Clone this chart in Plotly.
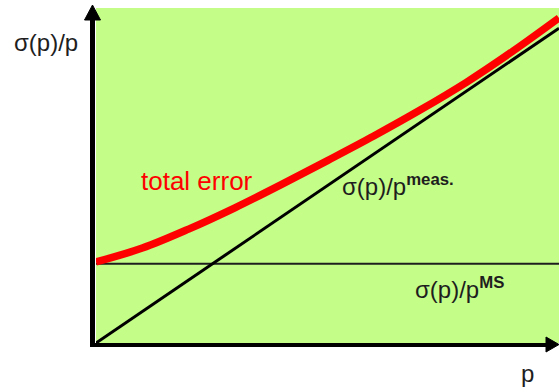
import plotly.graph_objects as go

# Momentum p (arbitrary units) and relative resolution contributions
p_vals = [0, 1, 2, 3, 4, 5, 6, 7, 8, 9, 10]
total_error = [1.75, 2.05, 2.46, 2.92, 3.42, 3.94, 4.47, 5.03, 5.63, 6.30, 7.02]

p_meas = [0, 10]
meas_error = [0, 6.80]

p_ms = [0, 10]
ms_error = [1.71, 1.71]

GREEN = "#c4fd88"
INK = "#1e1e1e"
FONT = "Liberation Sans, Arial, sans-serif"

fig = go.Figure()

fig.add_trace(go.Scatter(x=p_ms, y=ms_error, mode="lines",
                         line=dict(color=INK, width=2), hoverinfo="skip"))
fig.add_trace(go.Scatter(x=p_meas, y=meas_error, mode="lines",
                         line=dict(color="#000000", width=3), hoverinfo="skip"))
fig.add_trace(go.Scatter(x=p_vals, y=total_error, mode="lines",
                         line=dict(color="#ff0000", width=7.5, shape="spline"),
                         hoverinfo="skip"))

# axes with arrow heads (paper coordinates relative to the plot area)
W, H = 463.0, 335.0


def px(x):
    return (x - 96) / W


def py(y):
    return (343 - y) / H


shapes = [
    dict(type="line", xref="paper", yref="paper",
         x0=px(92.5), x1=px(92.5), y0=py(347), y1=py(16),
         line=dict(color="#000000", width=5)),
    dict(type="path", xref="paper", yref="paper",
         path=f"M {px(84.5)} {py(20)} L {px(92.5)} {py(5)} L {px(100.5)} {py(20)} Z",
         fillcolor="#000000", line=dict(color="#000000", width=1)),
    dict(type="line", xref="paper", yref="paper",
         x0=px(90), x1=px(550), y0=py(345), y1=py(345),
         line=dict(color="#000000", width=4)),
    dict(type="path", xref="paper", yref="paper",
         path=f"M {px(546)} {py(337)} L {px(559)} {py(344.5)} L {px(546)} {py(352)} Z",
         fillcolor="#000000", line=dict(color="#000000", width=1)),
]

annotations = [
    dict(x=px(46), y=py(43), xref="paper", yref="paper", text="σ(p)/p",
         showarrow=False, xanchor="center", yanchor="middle",
         font=dict(family=FONT, size=24, color=INK)),
    dict(x=px(197), y=py(181), xref="paper", yref="paper", text="total error",
         showarrow=False, xanchor="center", yanchor="middle",
         font=dict(family=FONT, size=26, color="#ff0000")),
    dict(x=px(340), y=py(185), xref="paper", yref="paper",
         text="σ(p)/p<sup><b>meas.</b></sup>",
         showarrow=False, xanchor="left", yanchor="middle",
         font=dict(family=FONT, size=24, color=INK)),
    dict(x=px(413), y=py(288), xref="paper", yref="paper",
         text="σ(p)/p<sup><b>MS</b></sup>",
         showarrow=False, xanchor="left", yanchor="middle",
         font=dict(family=FONT, size=24, color=INK)),
    dict(x=px(527), y=py(373), xref="paper", yref="paper", text="p",
         showarrow=False, xanchor="center", yanchor="middle",
         font=dict(family=FONT, size=24, color=INK)),
]

fig.update_layout(
    width=559, height=388,
    margin=dict(l=96, r=0, t=8, b=45),
    paper_bgcolor="#ffffff",
    plot_bgcolor=GREEN,
    showlegend=False,
    shapes=shapes,
    annotations=annotations,
    xaxis=dict(range=[0, 10], visible=False, fixedrange=True),
    yaxis=dict(range=[0, 7.235], visible=False, fixedrange=True),
)

fig.write_html("out.html")
